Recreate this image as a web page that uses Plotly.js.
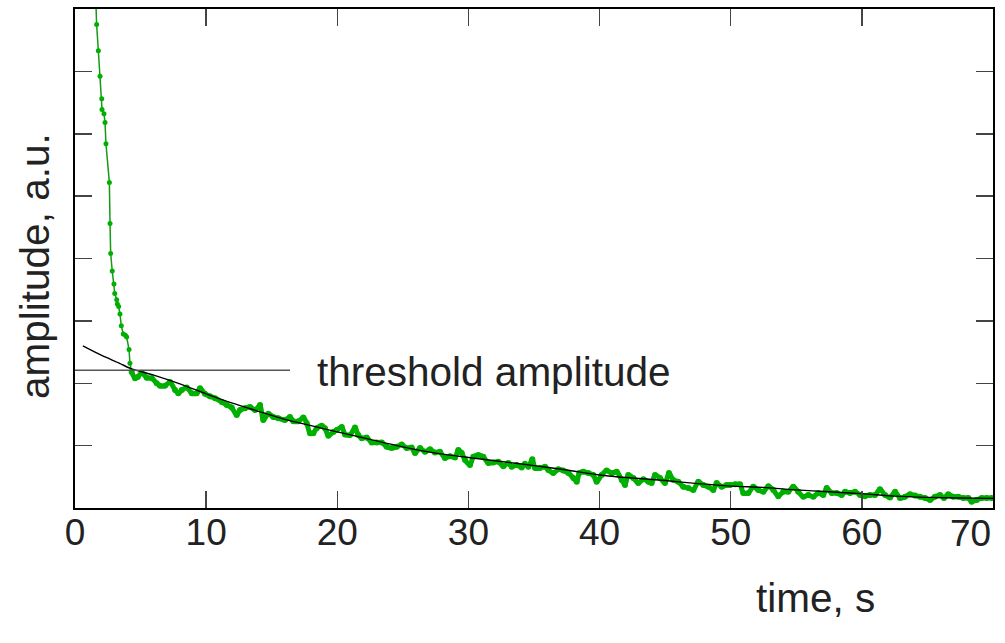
<!DOCTYPE html>
<html>
<head>
<meta charset="utf-8">
<script src="https://cdn.plot.ly/plotly-3.0.1.min.js"></script>
<style>
  html, body { margin: 0; padding: 0; background: #fff; }
  #chart { width: 1005px; height: 643px; }
</style>
</head>
<body>
<div id="chart"></div>
<script>
// ---- data (time in s, amplitude in a.u.) ----
// steep initial decay of the measured signal
const tSteep = [1.56, 1.65, 1.78, 1.91, 2.04, 2.06, 2.21, 2.29, 2.36, 2.62, 2.67, 2.72, 2.84, 2.97, 3.03, 3.18, 3.23, 3.33, 3.43, 3.53, 3.68, 3.84, 3.94, 4.12, 4.19, 4.32];
const aSteep = [8.30, 7.75, 7.33, 6.92, 6.56, 6.39, 6.32, 6.18, 5.84, 5.22, 4.56, 4.08, 3.80, 3.59, 3.44, 3.34, 3.27, 3.23, 3.11, 2.92, 2.79, 2.77, 2.74, 2.54, 2.32, 2.18];

// slow tail of the measured signal
const tTail = [4.32, 4.58, 4.78, 5.09, 5.47, 5.85, 6.23, 6.48, 6.86, 7.24, 7.63, 7.88, 8.14, 8.52, 8.90, 9.28, 9.53, 9.91, 10.29, 10.68, 11.19, 11.57, 11.95, 12.33, 12.58, 12.96, 13.34, 13.73, 14.11, 14.36, 14.74, 15.12, 15.50,
  16.01, 16.39, 16.65, 17.03, 17.41, 17.67, 17.92, 18.17, 18.43, 18.81, 19.06, 19.32, 19.70, 19.96, 20.34, 20.59, 20.97, 21.35, 21.60, 21.86, 22.24, 22.62, 23.01, 23.39, 23.77, 24.15, 24.53, 24.91, 25.29, 25.67, 25.93, 26.31, 26.69,
  27.07, 27.45, 27.83, 28.21, 28.60, 28.98, 29.23, 29.49, 29.74, 30.12, 30.37, 30.75, 31.13, 31.52, 31.90, 32.28, 32.66, 33.04, 33.30, 33.68, 34.06, 34.31, 34.57, 34.87, 35.08, 35.46, 35.84, 36.09, 36.47, 36.85, 37.23, 37.62, 38.00, 38.26, 38.46,
  38.76, 39.14, 39.52, 39.78, 40.16, 40.54, 40.93, 41.31, 41.69, 41.94, 42.19, 42.57, 42.95, 43.34, 43.72, 43.97, 44.23, 44.61, 44.99, 45.29, 45.62, 46.00, 46.38, 46.77, 47.15, 47.53, 47.91, 48.29, 48.67, 48.93, 49.31, 49.69,
  49.95, 50.33, 50.71, 50.96, 51.34, 51.72, 52.10, 52.49, 52.87, 53.25, 53.63, 54.01, 54.39, 54.77, 55.15, 55.54, 55.92, 56.30, 56.68, 57.06, 57.32, 57.70, 58.08, 58.46, 58.72, 59.10, 59.48, 59.86, 60.24, 60.62,
  61.00, 61.38, 61.77, 62.15, 62.53, 62.91, 63.29, 63.67, 64.05, 64.43, 64.82, 65.20, 65.58, 65.96, 66.26, 66.59, 66.97, 67.35, 67.73, 68.12, 68.37, 68.76, 69.14, 69.52, 69.90];
const aTail = [2.18, 2.08, 2.10, 2.17, 2.09, 2.08, 2.00, 1.96, 1.96, 2.02, 1.89, 1.84, 1.89, 1.93, 1.84, 1.84, 1.92, 1.83, 1.79, 1.76, 1.70, 1.65, 1.61, 1.49, 1.57, 1.60, 1.62, 1.57, 1.65, 1.41, 1.51, 1.46, 1.44,
  1.41, 1.46, 1.39, 1.39, 1.45, 1.36, 1.20, 1.20, 1.28, 1.32, 1.28, 1.16, 1.22, 1.25, 1.30, 1.18, 1.17, 1.29, 1.17, 1.12, 1.13, 1.05, 1.05, 1.05, 0.98, 0.96, 0.98, 1.02, 0.96, 0.97, 0.88, 0.96, 0.90,
  0.94, 0.89, 0.90, 0.80, 0.83, 0.81, 0.93, 0.88, 0.77, 0.69, 0.82, 0.85, 0.82, 0.72, 0.73, 0.74, 0.67, 0.72, 0.66, 0.69, 0.65, 0.71, 0.66, 0.78, 0.64, 0.64, 0.66, 0.61, 0.56, 0.62, 0.60, 0.56, 0.48, 0.42, 0.56,
  0.58, 0.56, 0.53, 0.42, 0.53, 0.60, 0.56, 0.58, 0.45, 0.37, 0.53, 0.48, 0.40, 0.46, 0.42, 0.40, 0.53, 0.48, 0.40, 0.56, 0.45, 0.42, 0.34, 0.32, 0.29, 0.42, 0.37, 0.34, 0.29, 0.40, 0.34, 0.37,
  0.37, 0.38, 0.38, 0.24, 0.24, 0.34, 0.29, 0.26, 0.35, 0.29, 0.19, 0.26, 0.26, 0.34, 0.26, 0.18, 0.21, 0.18, 0.24, 0.21, 0.32, 0.24, 0.24, 0.21, 0.26, 0.24, 0.26, 0.21, 0.19, 0.21,
  0.21, 0.30, 0.21, 0.17, 0.26, 0.16, 0.18, 0.22, 0.20, 0.18, 0.16, 0.13, 0.18, 0.21, 0.16, 0.22, 0.18, 0.18, 0.16, 0.16, 0.10, 0.13, 0.16, 0.16, 0.16];

// smooth fitted curve
const tFit = [0.6, 2.0, 3.4, 4.2, 6, 8, 10, 12, 14, 16, 18, 20, 22.5, 25, 27.5, 30, 32.5, 35, 37.5, 40, 42.5, 45, 47.5, 50, 52.5, 55, 57.5, 60, 62.5, 65, 67.5, 70];
const aFit = [2.60, 2.45, 2.32, 2.24, 2.13, 1.99, 1.83, 1.68, 1.55, 1.42, 1.32, 1.22, 1.10, 0.98, 0.88, 0.81, 0.745, 0.68, 0.61, 0.53, 0.48, 0.44, 0.39, 0.35, 0.33, 0.29, 0.26, 0.23, 0.19, 0.17, 0.16, 0.155];

// threshold amplitude
const thresholdValue = 2.21;
const thresholdT = [0, 16.4];
const thresholdLabel = "threshold amplitude";

const xTicks = [0, 10, 20, 30, 40, 50, 60, 70];
const xTitle = "time, s";
const yTitle = "amplitude, a.u.";

// ---- plot ----
const FONT = "Liberation Sans, Arial, sans-serif";
const TXT = "#222222";
const lastTick = xTicks[xTicks.length - 1];

const traces = [
  {
    x: tSteep, y: aSteep, type: "scatter", mode: "lines+markers",
    line: { color: "#159a15", width: 1.5 },
    marker: { color: "#00b000", size: 5 },
    hoverinfo: "skip"
  },
  {
    x: tTail, y: aTail, type: "scatter", mode: "lines+markers",
    line: { color: "#00b000", width: 5, shape: "spline", smoothing: 0.8 },
    marker: { color: "#00b000", size: 6 },
    hoverinfo: "skip"
  },
  {
    x: tFit, y: aFit, type: "scatter", mode: "lines",
    line: { color: "#000000", width: 1.4, shape: "spline", smoothing: 0.6 },
    hoverinfo: "skip"
  },
  {
    x: thresholdT, y: thresholdT.map(() => thresholdValue), type: "scatter", mode: "lines",
    line: { color: "#555555", width: 1.5 },
    hoverinfo: "skip"
  }
];

const layout = {
  width: 1005, height: 643,
  margin: { l: 75, r: 12, t: 9, b: 135 },
  paper_bgcolor: "#ffffff", plot_bgcolor: "#ffffff",
  showlegend: false,
  font: { family: FONT, color: TXT, size: 37 },
  xaxis: {
    range: [0, 70], tickvals: xTicks,
    ticktext: xTicks.map(v => v === lastTick ? "" : String(v)),
    ticks: "inside", ticklen: 17, tickwidth: 1.5, tickcolor: "#444",
    showline: true, linecolor: "#000", linewidth: 2, mirror: "ticks",
    showgrid: false, zeroline: false,
    tickfont: { family: FONT, size: 37, color: TXT },
    ticklabelstandoff: -9
  },
  yaxis: {
    range: [0, 8], dtick: 1, tick0: 0,
    ticks: "inside", ticklen: 17, tickwidth: 1.5, tickcolor: "#444",
    showline: true, linecolor: "#000", linewidth: 2, mirror: "ticks",
    showgrid: false, zeroline: false, showticklabels: false
  },
  annotations: [
    { text: String(lastTick), xref: "x", yref: "paper", x: lastTick, y: -0.052,
      xanchor: "right", yanchor: "middle", showarrow: false,
      font: { family: FONT, size: 37, color: TXT } },
    { text: thresholdLabel, xref: "x", yref: "y", x: 18.3, y: 2.18,
      xanchor: "left", yanchor: "middle", showarrow: false,
      font: { family: FONT, size: 40.5, color: TXT } },
    { text: xTitle, xref: "paper", yref: "paper", x: 0.807, y: -0.18,
      xanchor: "center", yanchor: "middle", showarrow: false,
      font: { family: FONT, size: 40.5, color: TXT } },
    { text: yTitle, xref: "paper", yref: "paper", x: -0.0436, y: 0.485,
      xanchor: "center", yanchor: "middle", textangle: -90, showarrow: false,
      font: { family: FONT, size: 40.5, color: TXT } }
  ]
};

Plotly.newPlot("chart", traces, layout, { staticPlot: true, displayModeBar: false });
</script>
</body>
</html>
